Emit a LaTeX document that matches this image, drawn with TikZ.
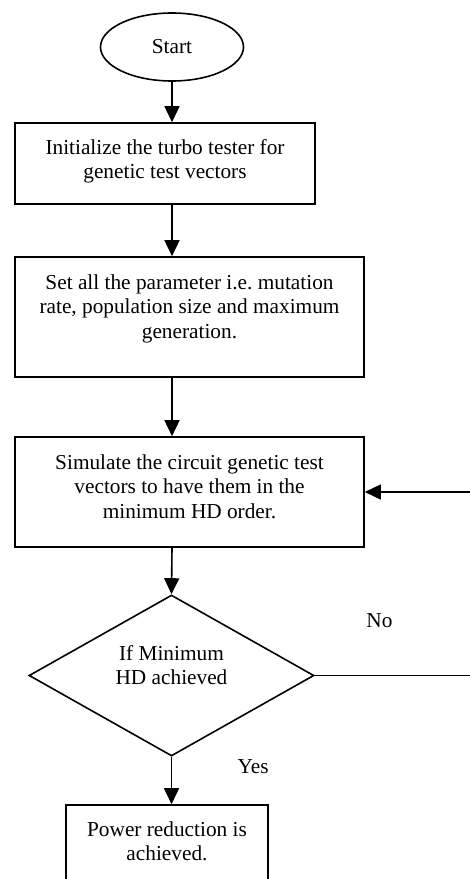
\documentclass[tikz,border=0pt]{standalone}
\usepackage{fontspec}
\setmainfont{Liberation Serif}
\usetikzlibrary{shapes,arrows.meta}
\tikzstyle{terminal} = [ellipse, draw=black, line width=1.6pt, minimum width=143pt, minimum height=68pt]
\tikzstyle{block} = [rectangle, draw=black, line width=1.6pt, align=center]
\tikzstyle{decision} = [diamond, aspect=1.77, draw=black, line width=1.6pt, align=center, inner sep=0pt, minimum width=285pt, minimum height=161pt]
\tikzstyle{line} = [draw, line width=1.6pt, -{Triangle[length=16pt,width=15pt]}]
% text sits high in the boxes
\newcommand{\toptext}[2]{\raisebox{#1}[\height][\depth]{\begin{tabular}{@{}c@{}}#2\end{tabular}}}

\begin{document}
\begin{tikzpicture}[x=1pt, y=1pt, node distance=120pt, font=\fontsize{21.3}{24.5}\selectfont]
\useasboundingbox (0,0) rectangle (469,-879);
\node [terminal] (start) at (172,-47) {Start};
\node [block, below of = start, node distance = 116.5pt, xshift=-7pt, minimum width=300pt, minimum height=81pt] (init) {\toptext{2pt}{Initialize the turbo tester for\\genetic test vectors}};
\node [block, below of = init, node distance = 153.5pt, xshift=24.5pt, minimum width=349pt, minimum height=120pt] (param) {\toptext{8.2pt}{Set all the parameter i.e.\ mutation\\rate, population size and maximum\\generation.}};
\node [block, below of = param, node distance = 175pt, minimum width=349pt, minimum height=110pt] (sim) {\toptext{3.2pt}{Simulate the circuit genetic test\\vectors to have them in the\\minimum HD order.}};
\node [decision, below of = sim, node distance = 183.5pt, xshift=-18pt] (test) {\toptext{8pt}{If Minimum\\HD achieved}};
\node [block, below of = test, node distance = 177pt, xshift=-4.5pt, minimum width=202pt, minimum height=95pt] (power) {\toptext{9pt}{Power reduction is\\achieved.}};

\draw [line] (start.south) -- (start.south |- init.north);
\draw [line] (start |- init.south) -- (start |- param.north);
\draw [line] (start |- param.south) -- (start |- sim.north);
\draw [line] (start |- sim.south) -- (test.north);
\draw [line] (test.south) -- node [pos=0.2, right=62pt] {Yes} (test.south |- power.north);
\draw [line] (test.east) -- node [pos=0.38, above=44pt] {No} ++(170,0) |- (sim.east);

\end{tikzpicture}
\end{document}
